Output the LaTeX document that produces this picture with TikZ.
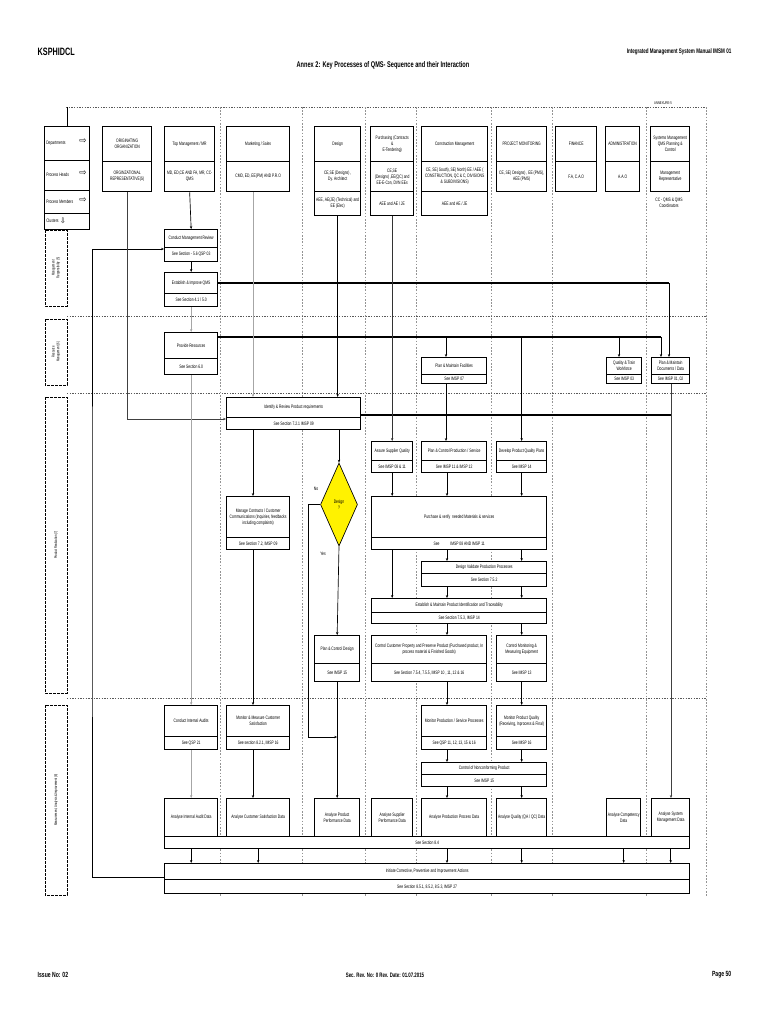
\documentclass[tikz,border=0pt]{standalone}
\usepackage{fontspec}
\setmainfont{Liberation Sans}[FakeStretch=0.68]
\newfontfamily\symf{DejaVu Sans}
\usetikzlibrary{arrows.meta,calc,shapes.geometric}
\newcommand\bt{\fontsize{3.7}{4.5}\selectfont}
\newcommand\twobox[8]{%
 \pgfmathsetmacro\bw{(#4-#2)*0.75}%
 \pgfmathsetmacro\bha{(#5-#3)*0.75}%
 \pgfmathsetmacro\bhb{(#6-#5)*0.75}%
 \node[cell, minimum width=\bw pt, minimum height=\bha pt] (#1) at (#2,#3) {#7};
 \node[cell, minimum width=\bw pt, minimum height=\bhb pt] (#1-b) at (#2,#5) {#8};
}
\newcommand\onebox[6]{%
 \pgfmathsetmacro\bw{(#4-#2)*0.75}%
 \pgfmathsetmacro\bha{(#5-#3)*0.75}%
 \node[cell, minimum width=\bw pt, minimum height=\bha pt] (#1) at (#2,#3) {#6};
}
\begin{document}
\begin{tikzpicture}[x=0.75pt,y=-0.75pt,
  cell/.style={draw,line width=1pt,fill=white,anchor=north west,inner sep=0.3pt,align=center,font=\bt},
  arr/.style={-{Stealth[length=2.2pt,width=1.8pt]},line width=0.5pt},
  garr/.style={arr,draw=gray!70},
  thickln/.style={line width=1.3pt},
  coldiv/.style={gray!85,line width=0.4pt,dash pattern=on 1.2pt off 1.2pt},
  rowdiv/.style={gray!70!black,line width=0.6pt,dash pattern=on 1pt off 1pt},
  lanebox/.style={draw,line width=0.6pt,dash pattern=on 2pt off 1pt},
  lbl/.style={font=\bt,inner sep=0pt},
]
\useasboundingbox (0,0) rectangle (768,1024);

% page header / footer
\node[anchor=west,font=\bfseries\fontsize{8}{10}\selectfont] (ksp) at (33,52) {KSPHIDCL};
\node[anchor=east,font=\bfseries\fontsize{5}{6}\selectfont] (ims) at (736,52) {Integrated Management System Manual IMSM 01};
\node[font=\bfseries\fontsize{6.2}{8}\selectfont] (ttl) at (383,65) {Annex 2: Key Processes of QMS- Sequence and their Interaction};
\node[font=\fontsize{3}{3}\selectfont] (anx) at (663,103) {ANNEXURE-5};
\node[anchor=west,font=\bfseries\fontsize{5.6}{6}\selectfont] (iss) at (33,975) {Issue No: 02};
\node[font=\bfseries\fontsize{4.8}{6}\selectfont] (rev) at (385,975) {Sec. Rev. No: 0 Rev. Date: 01.07.2015};
\node[anchor=east,font=\bfseries\fontsize{5.6}{6}\selectfont] (pg) at (736,975) {Page 50};

% frame lines
\draw[rowdiv] (66,107) -- (706,107);
\foreach \x in {220,302,365,416,491,552,646,706} \draw[coldiv] (\x,107) -- (\x,897);
\draw[line width=0.5pt] (67,107) -- (67,126);
\foreach \y in {316,393,698} \draw[rowdiv] (67,\y) -- (706,\y);

% lanes
\draw[lanebox] (45,230) rectangle (67,306);
\draw[lanebox] (45,319) rectangle (67,385);
\draw[lanebox] (45,397) rectangle (67,693);
\draw[lanebox] (45,705) rectangle (67,895);
\node[rotate=90,font=\fontsize{3}{3.6}\selectfont,align=center] (ln1) at (56,268) {Management\\Responsibility (5)};
\node[rotate=90,font=\fontsize{3}{3.6}\selectfont,align=center] (ln2) at (56,352) {Resource\\Management (6)};
\node[rotate=90,font=\fontsize{3}{3.6}\selectfont] (ln3) at (56,545) {Product Realization (7)};
\node[rotate=90,font=\fontsize{3}{3.6}\selectfont] (ln4) at (56,800) {Measurement, Analysis \& Improvement (8)};

% left legend
\onebox{ldep}{44}{126}{89}{160}{}
\onebox{lph}{44}{160}{89}{190}{}
\onebox{lpm}{44}{190}{89}{213}{}
\onebox{lcl}{44}{213}{89}{229}{}
\node[lbl,anchor=west] (ldept) at (46,143) {Departments};
\node[lbl,anchor=west] (lpht) at (46,175) {Process Heads};
\node[lbl,anchor=west] (lpmt) at (46,202) {Process Members};
\node[lbl,anchor=west] (lclt) at (46,221) {Clusters};
\node[font=\symf\fontsize{6.5}{7}\selectfont,inner sep=0pt] (ldepa) at (83,141) {⇨};
\node[font=\symf\fontsize{6.5}{7}\selectfont,inner sep=0pt] (lpha) at (83,173) {⇨};
\node[font=\symf\fontsize{6.5}{7}\selectfont,inner sep=0pt] (lpma) at (83,200) {⇨};
\node[font=\symf\fontsize{5.5}{6}\selectfont,inner sep=0pt] (lcla) at (63,221) {⇩};

% department headers
\twobox{orig}{102}{126}{151}{161}{191}{ORIGINATING\\ORGANIZATION}{ORGINZATIONAL\\REPRESENTATIVE(S)}
\twobox{topm}{164}{126}{214}{161}{191}{Top Management / MR}{MD, ED,CE AND FA, MR, CC-\\QMS}
\twobox{mkt}{226}{126}{289}{161}{191}{Marketing / Sales}{CMD, ED, EE(PM) AND P.R.O}
\twobox{des}{314}{126}{360}{161}{191}{Design}{CE,SE (Designs) ,\\Dy. Architect}
\onebox{des-c}{314}{191}{360}{215}{AEE, AE(JE) (Technical) and\\EE (Elec)}
\twobox{pur}{370}{126}{413}{161}{191}{Purchasing (Contracts\\\&\\E-Tendering)}{CE,SE\\(Designs) ,EE(QC) and\\EE-E-Con, DVN EEs}
\onebox{pur-c}{370}{191}{413}{215}{AEE and AE / JE}
\twobox{con}{421}{126}{487}{161}{191}{Construction Management}{CE, SE( South), SE( North) EE / AEE (\\CONSTRUCTION, QC \& C, DIVISIONS\\\& SUBDIVISIONS)}
\onebox{con-c}{421}{191}{487}{215}{AEE and AE / JE}
\twobox{pm}{496}{126}{546}{161}{191}{PROJECT MONITORING}{CE, SE( Designs) , EE (PMS),\\AEE (PMS)}
\twobox{fin}{555}{126}{596}{161}{191}{FINANCE}{F.A, C.A.O}
\twobox{adm}{605}{126}{639}{161}{191}{ADMINISTRATION}{A.A.O}
\twobox{sys}{650}{126}{689}{161}{191}{Systems Management\\QMS Planning \&\\Control}{Management\\Representative}
\node[lbl,align=center] (ccq) at (669,203) {CC - QMS \& QMS\\Coordinators};

% process boxes
\twobox{cmr}{164}{229}{217}{247}{261}{Conduct Management Review}{See Section - 5.6 QSP 03}
\twobox{eiq}{164}{272}{217}{293}{306}{Establish \& Improve QMS}{See Section 4.1 / 5.0}
\twobox{prs}{164}{332}{217}{358}{374}{Provide Resources}{See Section 6.0}
\twobox{pmf}{421}{357}{486}{374}{383}{Plan \& Maintain Facilities}{See IMSP 07}
\twobox{qtw}{606}{357}{641}{374}{383}{Quality \& Train\\Workforce}{See IMSP 03}
\twobox{pmd}{651}{357}{689}{374}{383}{Plan \& Maintain\\Documents / Data}{See IMSP 01, 02}
\twobox{irp}{226}{397}{360}{417}{429}{Identify \& Review Product requirements}{See Section 7.2.1 IMSP 09}
\twobox{asq}{371}{441}{412}{460}{472}{Assure Supplier Quality}{See IMSP 08 \& 11}
\twobox{pcp}{421}{441}{486}{460}{472}{Plan \& Control Production / Service}{See IMSP 11 \& IMSP 12}
\twobox{dpq}{496}{441}{546}{460}{472}{Develop Product Quality Plans}{See IMSP 14}
\twobox{mcc}{226}{496}{289}{537}{549}{Manage Contracts / Customer\\Communications (Inquiries, feedbacks\\including complaints)}{See Section 7.2, IMSP 09}
\twobox{pvm}{371}{496}{546}{537}{549}{Purchase \& verify \ needed Materials \& services}{See \qquad IMSP 08 AND IMSP 11}
\twobox{dvp}{421}{561}{546}{573}{586}{Design Validate Production Processes}{See Section 7.5.2}
\twobox{epi}{371}{598}{546}{612}{623}{Establish \& Maintain Product Identification and Traceability}{See Section 7.5.3, IMSP 14}
\twobox{ccp}{371}{635}{486}{663}{681}{Control Customer Property and Preserve Product (Purchased product, In\\process material \& Finished Goods)}{See Section 7.5.4, 7.5.5, IMSP 10 , 11, 12 \& 16}
\twobox{cme}{496}{635}{546}{663}{681}{Control Monitoring \&\\Measuring Equipment}{See IMSP 13}
\twobox{pcd}{314}{635}{359}{663}{681}{Plan \& Control Design}{See IMSP 15}
\twobox{cia}{164}{705}{217}{736}{749}{Conduct Internal Audits}{See QSP 21}
\twobox{mmc}{226}{705}{289}{736}{749}{Monitor \& Measure Customer\\Satisfaction}{See section 8.2.1, IMSP 16}
\twobox{mps}{421}{705}{486}{736}{749}{Monitor Production / Service Processes}{See QSP 11, 12, 13, 15 \& 16}
\twobox{mpq}{496}{705}{546}{736}{749}{Monitor Product Quality\\(Receiving, Inprocess \& Final)}{See IMSP 16}
\twobox{cnc}{421}{762}{546}{774}{786}{Control of Nonconforming Product}{See IMSP 15}
\onebox{aia}{164}{798}{217}{836}{Analyse Internal Audit Data}
\onebox{acs}{226}{798}{289}{836}{Analyse Customer Satisfaction Data}
\onebox{app}{314}{798}{359}{836}{Analyse Product\\Performance Data}
\onebox{asp}{371}{798}{412}{836}{Analyse Supplier\\Performance Data}
\onebox{apd}{421}{798}{486}{836}{Analyse Production Process Data}
\onebox{aqd}{496}{798}{546}{836}{Analyse Quality (QA / QC) Data}
\onebox{acd}{606}{798}{640}{836}{Analyse Competency\\Data}
\onebox{asm}{651}{798}{689}{836}{Analyse System\\Management Data}
\onebox{bar}{164}{836}{689}{848}{See Section 8.4}
\twobox{ica}{164}{863}{689}{879}{893}{Initiate Corrective, Preventive and Improvement Actions}{See Section 8.5.1, 8.5.2, 8.5.3, IMSP 27}

\node[diamond,draw,fill=yellow,line width=0.5pt,inner sep=0pt,aspect=0.45,minimum width=27.75pt,minimum height=62.25pt,font=\bt,align=center] (dia) at (339,504.5) {Design\\?};
\node[lbl] (lno) at (316,489) {No};
\node[lbl] (lyes) at (323,554) {Yes};

% reference x positions
\coordinate (mx) at (253,0);
\coordinate (c446) at (446,0);
\coordinate (c447) at (447,0);
\coordinate (c619) at (619,0);
\coordinate (c661) at (661,0);
\coordinate (c669) at (669,0);
\coordinate (c671) at (671,0);
\coordinate (fb) at (92,560);
\coordinate (nc) at (308,737);

% connectors
\draw[arr] (topm-b.south) -- (cmr.north);
\draw[arr] (cmr-b.south) -- (eiq.north);
\draw[garr] (eiq-b.south) -- (prs.north);
\draw[arr] ($(ica.south west)+(0,-3)$) -| (fb) |- ($(cmr-b.north west)+(0,2)$);
\draw[arr,draw=gray!50!black] (orig-b.south) |- ($(irp-b.north west)+(0,2)$);

\draw[thickln] (eiq.east) -- (eiq.east -| c669);
\draw[arr] (eiq.east -| c669) -- (c669 |- pmd.north);
\coordinate (pr) at ($(prs.north east)+(0,5)$);
\draw[thickln] (pr) -- (pr -| c661);
\draw[arr] (pr -| c661) -- (c661 |- pmd.north);
\draw[arr] (pr -| c446) -- (c446 |- pmf.north);
\draw[arr] (pr -| c619) -- (c619 |- qtw.north);
\draw[arr] (pr -| dpq.north) -- (dpq.north);
\draw[arr] (pmf-b.south -| c446) -- (c446 |- pcp.north);

\draw[garr] (mkt-b.south -| mx) -- (mx |- irp.north);
\draw[arr] (des-c.south) -- (des-c.south |- irp.north);
\coordinate (ir) at ($(irp.south east)+(0,-3)$);
\draw[thickln] (ir) -- (ir -| c671);
\draw[arr,draw=gray!50!black] (pmd-b.south -| c671) -- (c671 |- asm.north);
\draw[arr,draw=gray!40!black] (pur-c.south) -- (asq.north);

\draw[arr] (irp-b.south -| mx) -- (mx |- mcc.north);
\draw[arr] (mcc-b.south -| mx) -- (mx |- mmc.north);
\draw[arr] (mmc-b.south -| mx) -- (mx |- acs.north);
\draw[arr] (irp-b.south -| dia.north) -- (dia.north);
\draw[arr] (dia.west) -| (nc) -- (nc -| app.north);
\draw[arr] (dia.south) -- (pcd.north);
\draw[arr] (pcd-b.south) -- (app.north);

\draw[arr] (asq-b.south) -- (asq-b.south |- pvm.north);
\draw[arr] (pcp-b.south -| c447) -- (c447 |- pvm.north);
\draw[arr] (dpq-b.south) -- (dpq-b.south |- pvm.north);
\draw[arr] (pvm-b.south -| asq.south) -- (asq.south |- epi.north);
\draw[arr] (pvm-b.south -| c447) -- (c447 |- dvp.north);
\draw[arr] (pvm-b.south -| dpq.south) -- (dpq.south |- dvp.north);
\draw[arr] (dvp-b.south -| c447) -- (c447 |- epi.north);
\draw[arr] (dvp-b.south -| dpq.south) -- (dpq.south |- epi.north);
\draw[arr] (epi-b.south -| c447) -- (c447 |- ccp.north);
\draw[arr] (epi-b.south -| cme.north) -- (cme.north);
\draw[arr] (ccp-b.south -| c447) -- (c447 |- mps.north);
\draw[arr] (cme-b.south) -- (mpq.north);
\draw[arr] (mps-b.south -| c447) -- (c447 |- cnc.north);
\draw[arr] (mpq-b.south) -- (mpq-b.south |- cnc.north);
\draw[arr] (cnc-b.south -| c447) -- (c447 |- apd.north);
\draw[arr] (cnc-b.south -| aqd.north) -- (aqd.north);

\draw[garr] (prs-b.south) -- (cia.north);
\draw[garr] (cia-b.south) -- (aia.north);

\foreach \n in {aia,acs,c447,aqd,acd,asm} \draw[arr] (bar.south -| \n) -- (ica.north -| \n);
\end{tikzpicture}
\end{document}
